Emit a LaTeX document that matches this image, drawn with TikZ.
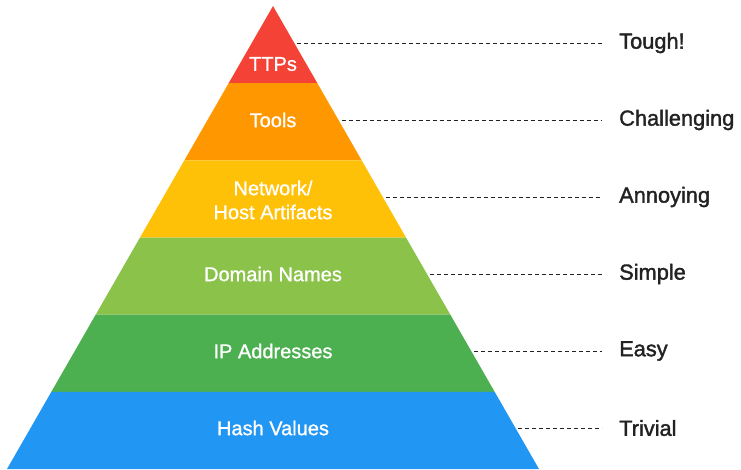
\documentclass[tikz,border=0pt]{standalone}
\usepackage{fontspec}
\setmainfont{Liberation Sans}
\newfontfamily\layerfont[FakeBold=1.0]{Liberation Sans}
\newfontfamily\levelfont[FakeBold=1.6]{Liberation Sans}
\usepackage{xcolor}
\usetikzlibrary{calc,positioning}

\definecolor{ttpred}{HTML}{F44336}
\definecolor{toolorange}{HTML}{FF9800}
\definecolor{artamber}{HTML}{FFC107}
\definecolor{domgreen}{HTML}{8BC34A}
\definecolor{ipgreen}{HTML}{4CAF50}
\definecolor{hashblue}{HTML}{2196F3}
\definecolor{labelgray}{HTML}{222222}

\begin{document}
\begin{tikzpicture}[x=1pt,y=-1pt,
    layer/.style={text=white,font=\layerfont\fontsize{20}{24}\selectfont,align=center,inner sep=0},
    level/.style={text=labelgray,font=\levelfont\fontsize{21.8}{24}\selectfont,anchor=west,inner sep=0},
    guide/.style={labelgray,line width=0.9pt,dash pattern=on 4pt off 3pt,shorten >=17pt}]
    \useasboundingbox (0,0) rectangle (741,469);
    \coordinate (apex) at (273,6);
    \coordinate (bl) at (7,469);
    \coordinate (br) at (539,469);
    % pyramid layers, top to bottom
    \foreach \i/\c in {0/ttpred,1/toolorange,2/artamber,3/domgreen,4/ipgreen,5/hashblue} {
      \pgfmathsetmacro\a{\i/6}
      \pgfmathsetmacro\b{(\i+1)/6}
      \fill[\c] ($(apex)!\a!(bl)$) -- ($(apex)!\a!(br)$) -- ($(apex)!\b!(br)$) -- ($(apex)!\b!(bl)$) -- cycle;
    }
    \node[layer] (ttp) at (273,64) {TTPs};
    \node[layer] (tool) at (273,120) {Tools};
    \node[layer] (art) at (273,200) {Network/\\Host Artifacts};
    \node[layer] (dom) at (273,274) {Domain Names};
    \node[layer] (ip) at (273,351) {IP Addresses};
    \node[layer] (hash) at (273,428) {Hash Values};
    % difficulty labels
    \node[level] (tough) at (619,43) {Tough!};
    \node[level] (chal) at (619,120) {Challenging};
    \node[level] (ann) at (619,197) {Annoying};
    \node[level] (simp) at (619,274) {Simple};
    \node[level] (easy) at (619,351) {Easy};
    \node[level] (triv) at (619,428) {Trivial};
    \coordinate (e1) at (297,43);
    \coordinate (e2) at (341.5,120);
    \coordinate (e3) at (385.7,197);
    \coordinate (e4) at (430,274);
    \coordinate (e5) at (474.2,351);
    \coordinate (e6) at (518,428);
    \draw[guide] (e1) -- (tough.west);
    \draw[guide] (e2) -- (chal.west);
    \draw[guide] (e3) -- (ann.west);
    \draw[guide] (e4) -- (simp.west);
    \draw[guide] (e5) -- (easy.west);
    \draw[guide] (e6) -- (triv.west);
  \end{tikzpicture}
\end{document}
